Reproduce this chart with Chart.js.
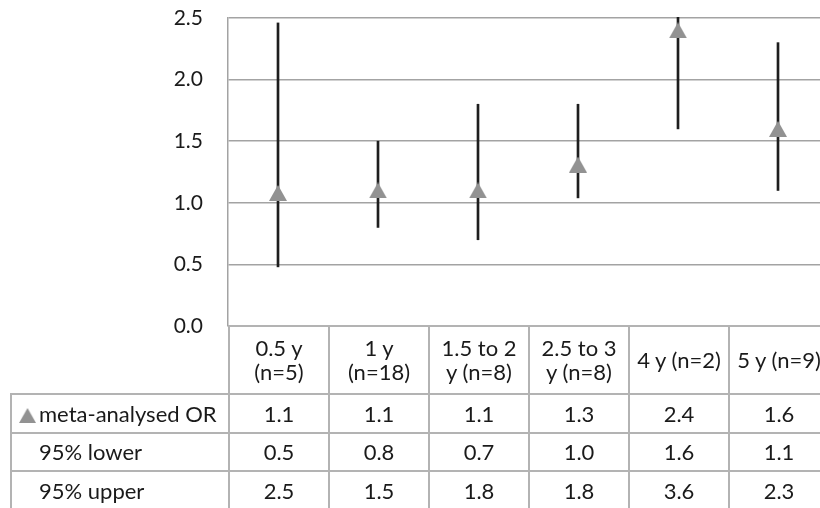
<!DOCTYPE html>
<html>
<head>
<meta charset="utf-8">
<script src="https://cdn.jsdelivr.net/npm/chart.js@4.4.1/dist/chart.umd.min.js"></script>
<style>
  html, body { margin: 0; padding: 0; background: #fff; }
  #wrap { position: relative; width: 820px; height: 508px; overflow: hidden; font-family: Lato, sans-serif; color: #1a1a1a; }
  #chart { position: absolute; left: 0; top: 0; }
  #datatable { position: absolute; left: 10px; top: 325px; width: 818px; border-collapse: collapse; table-layout: fixed; font-size: 22px; }
  #datatable td { border: 2px solid #b3b3b3; text-align: center; padding: 0; white-space: nowrap; overflow: hidden; }
  #datatable tr.head td { height: 66px; line-height: 24px; }
  #datatable tr.row td { height: 36.5px; }
  #datatable td.blank { border: none; }
  #datatable td.label { text-align: left; padding-left: 27px; }
  #datatable td.label img { position: relative; margin-left: -20px; margin-right: 3px; vertical-align: -1px; }
</style>
</head>
<body>
<div id="wrap">
  <canvas id="chart" width="840" height="508"></canvas>
  <table id="datatable"></table>
</div>
<script>
// Values
const categories = [['0.5 y', '(n=5)'], ['1 y', '(n=18)'], ['1.5 to 2', 'y (n=8)'], ['2.5 to 3', 'y (n=8)'], ['4 y (n=2)'], ['5 y (n=9)']];
const metaOR = [1.08, 1.1, 1.1, 1.31, 2.4, 1.6];
const lower95 = [0.48, 0.8, 0.7, 1.04, 1.6, 1.1];
const upper95 = [2.46, 1.5, 1.8, 1.8, 3.6, 2.3];
const yTicks = [0, 0.5, 1, 1.5, 2, 2.5];
const rowLabels = ['meta-analysed OR', '95% lower', '95% upper'];

// Excel style triangle marker, centred on its bounding box
const tri = document.createElement('canvas');
tri.width = 18;
tri.height = 16;
let tctx = tri.getContext('2d');
tctx.fillStyle = '#929292';
tctx.beginPath();
tctx.moveTo(9, 0);
tctx.lineTo(18, 16);
tctx.lineTo(0, 16);
tctx.closePath();
tctx.fill();

// Error bars go from lower to upper
let ranges = lower95.map((lo, i) => [lo, upper95[i]]);

let ctx = document.getElementById('chart').getContext('2d');
let chart = new Chart(ctx, {
    type: 'bar',
    data: {
        labels: categories.map(c => c.join(' ')),
        datasets: [
            {
                type: 'line',
                label: 'meta-analysed OR',
                data: metaOR,
                showLine: false,
                pointStyle: tri,
                pointRadius: 9,
                order: 0
            },
            {
                type: 'bar',
                label: '95% CI',
                data: ranges,
                backgroundColor: '#1e1e1e',
                barThickness: 2,
                clip: 1,
                order: 1
            }
        ]
    },
    options: {
        responsive: false,
        animation: false,
        layout: {
            padding: { top: 18, right: 12, bottom: 182, left: 0 }
        },
        plugins: {
            legend: { display: false },
            tooltip: { enabled: false }
        },
        scales: {
            x: {
                display: false,
                offset: true
            },
            y: {
                min: 0,
                max: 2.5,
                afterBuildTicks: (axis) => { axis.ticks = yTicks.map(v => ({ value: v })); },
                afterFit: (axis) => {
                    axis.width = 228;
                    axis.paddingTop = 0;
                    axis.paddingBottom = 0;
                },
                grid: {
                    color: '#a3a3a3',
                    lineWidth: 1.5,
                    drawTicks: false
                },
                border: {
                    display: true,
                    color: '#a3a3a3',
                    width: 1.5
                },
                ticks: {
                    padding: 25,
                    color: '#1a1a1a',
                    font: { family: 'Lato', size: 21 },
                    callback: (v) => Number(v).toFixed(1)
                }
            }
        }
    }
});

// Data table under the plot
let table = document.getElementById('datatable');
let html = '<colgroup><col style="width:218px">';
categories.forEach(() => { html += '<col style="width:100px">'; });
html += '</colgroup><tr class="head"><td class="blank"></td>';
categories.forEach(c => { html += '<td>' + c.join('<br>') + '</td>'; });
html += '</tr>';
let rows = [metaOR, lower95, upper95];
rows.forEach((vals, r) => {
    html += '<tr class="row"><td class="label">';
    if (r == 0) {
        html += '<img src="' + tri.toDataURL() + '" width="17" height="15">';
    }
    html += rowLabels[r] + '</td>';
    vals.forEach(v => { html += '<td>' + v.toFixed(1) + '</td>'; });
    html += '</tr>';
});
table.innerHTML = html;
</script>
</body>
</html>
